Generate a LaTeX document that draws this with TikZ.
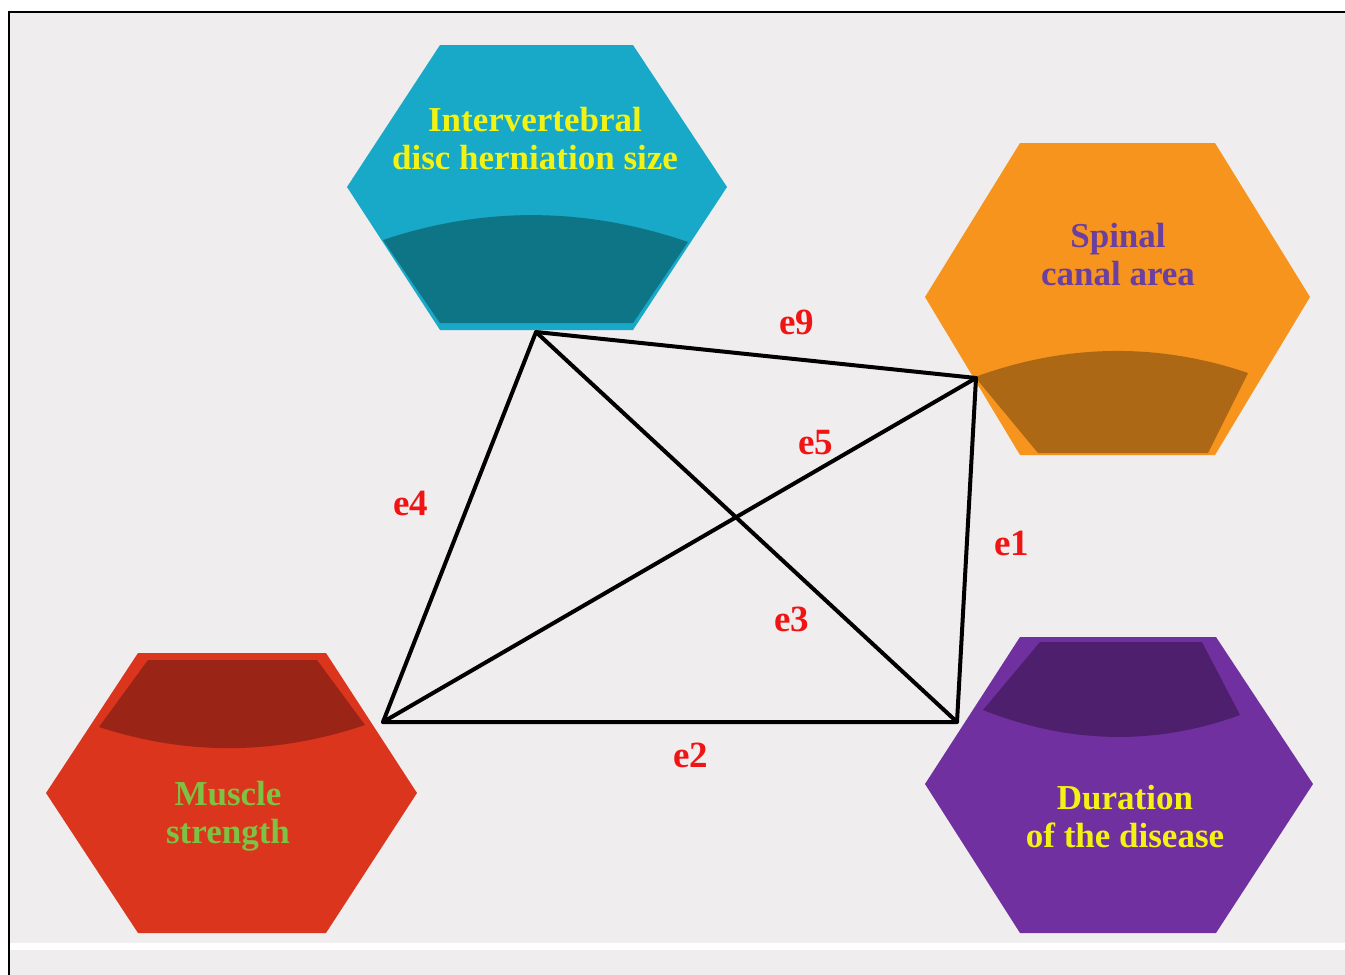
\documentclass[tikz,border=0pt]{standalone}
\usepackage{fontspec}
\setmainfont{Liberation Serif}
\definecolor{pagegray}{HTML}{EFEDEE}
\definecolor{tealhex}{HTML}{17A9C7}
\definecolor{tealdark}{HTML}{0E7587}
\definecolor{orangehex}{HTML}{F7941D}
\definecolor{orangedark}{HTML}{AD6816}
\definecolor{redhex}{HTML}{DC351E}
\definecolor{reddark}{HTML}{9A2416}
\definecolor{purplehex}{HTML}{7030A0}
\definecolor{purpledark}{HTML}{4E1F6C}
\definecolor{labelyellow}{HTML}{F2F214}
\definecolor{labelpurple}{HTML}{6B3FA0}
\definecolor{labelgreen}{HTML}{7DC242}
\definecolor{labelred}{HTML}{F01414}
\tikzset{
	hexlabel/.style={align=center,font=\fontsize{35}{38}\selectfont\bfseries,inner sep=0},
	edgelabel/.style={text=labelred,font=\fontsize{37}{38}\selectfont\bfseries,inner sep=0},
	link/.style={line width=4pt,line join=round,line cap=round}
}
\begin{document}
\begin{tikzpicture}[x=1pt,y=-1pt]
	\useasboundingbox (0,0) rectangle (1345,975);
	\fill[white] (0,0) rectangle (1345,975);
	\fill[pagegray] (9,12) rectangle (1345,943);
	\fill[pagegray] (9,950) rectangle (1345,975);
	\draw[line width=1.5pt] (1345,12) -- (9,12) -- (9,975);
	% hexagons
	\fill[tealhex] (440,45) -- (633,45) -- (727,187) -- (633,330) -- (440,330) -- (347,187) -- cycle;
	\fill[tealdark] (383,240) .. controls (484,206) and (586,207) .. (688,242) -- (633,323) -- (440,323) -- cycle;
	\fill[orangehex] (1020,143) -- (1215,143) -- (1310,297) -- (1215,455) -- (1020,455) -- (925,297) -- cycle;
	\fill[orangedark] (975,377) .. controls (1065,344) and (1157,342) .. (1248,373) -- (1208,453) -- (1038,453) -- cycle;
	\fill[redhex] (138,653) -- (326,653) -- (417,793) -- (326,933) -- (138,933) -- (46,793) -- cycle;
	\fill[reddark] (148,660) -- (317,660) -- (365,725) .. controls (276,755) and (188,756) .. (99,727) -- cycle;
	\fill[purplehex] (1020,637) -- (1216,637) -- (1313,784) -- (1216,933) -- (1020,933) -- (925,784) -- cycle;
	\fill[purpledark] (1040,642) -- (1202,642) -- (1240,715) .. controls (1155,746) and (1069,744) .. (983,710) -- cycle;
	\node[hexlabel,text=labelyellow] (disc) at (535,139) {Intervertebral\\disc herniation size};
	\node[hexlabel,text=labelpurple] (canal) at (1118,255) {Spinal\\canal area};
	\node[hexlabel,text=labelgreen] (muscle) at (228,816) {Muscle\\strength};
	\node[hexlabel,text=labelyellow] (duration) at (1125,817) {Duration\\of the disease};
	% corners of the graph
	\coordinate (a) at (536,332);
	\coordinate (b) at (976,378);
	\coordinate (c) at (383,722);
	\coordinate (d) at (957,722);
	\draw[link] (a) -- (b) -- (d) -- (c) -- cycle;
	\draw[link] (a) -- (d);
	\draw[link] (b) -- (c);
	\node[edgelabel] (e9) at (797,322) {e9};
	\node[edgelabel] (e5) at (816,443) {e5};
	\node[edgelabel] (e4) at (411,503) {e4};
	\node[edgelabel] (e1) at (1012,543) {e1};
	\node[edgelabel] (e3) at (792,619) {e3};
	\node[edgelabel] (e2) at (691,755) {e2};
\end{tikzpicture}
\end{document}
